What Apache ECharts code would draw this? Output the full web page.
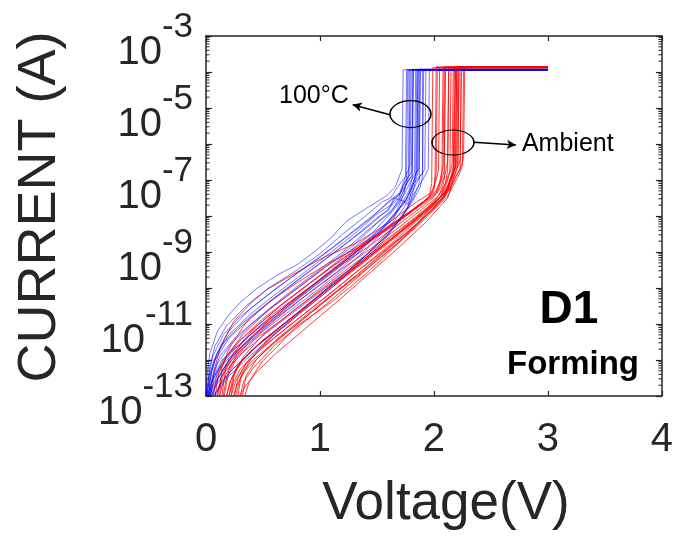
<!DOCTYPE html>
<html>
<head>
<meta charset="utf-8">
<script src="https://cdn.jsdelivr.net/npm/echarts@6/dist/echarts.min.js"></script>
<style>
html,body{margin:0;padding:0;background:#fff;}
#chart{width:676px;height:536px;}
</style>
</head>
<body>
<div id="chart"></div>
<script>
// ---- Data (voltage V, log10 of current in A) ----
// 100°C curves (blue)
const blueCurves = [
 [[0,-13],[0.01,-12.4],[0.035,-11.8],[0.1,-11.2],[0.2,-10.75],[0.3,-10.4],[0.45,-10.0],[0.62,-9.65],[0.8,-9.35],[0.95,-9.0],[1.1,-8.6],[1.23,-8.15],[1.4,-7.8],[1.58,-7.45],[1.66,-7.2],[1.72,-6.7],[1.73,-3.94],[3,-3.94]],
 [[0.01,-13],[0.03,-12.2],[0.08,-11.6],[0.18,-11.05],[0.35,-10.5],[0.55,-10.0],[0.8,-9.5],[1.0,-9.05],[1.2,-8.5],[1.4,-8.0],[1.55,-7.6],[1.62,-7.5],[1.68,-7.2],[1.75,-6.9],[1.76,-3.93],[3,-3.93]],
 [[0,-13],[0.02,-12.5],[0.06,-11.9],[0.15,-11.3],[0.3,-10.8],[0.5,-10.3],[0.75,-9.7],[1.0,-9.15],[1.25,-8.55],[1.45,-8.05],[1.6,-7.6],[1.7,-7.35],[1.74,-7.0],[1.79,-6.6],[1.8,-3.95],[3,-3.95]],
 [[0.02,-13],[0.05,-12.3],[0.1,-11.8],[0.2,-11.3],[0.4,-10.7],[0.6,-10.2],[0.85,-9.6],[1.1,-9.0],[1.3,-8.5],[1.5,-7.95],[1.62,-7.7],[1.68,-7.45],[1.72,-7.3],[1.8,-6.9],[1.82,-3.93],[3,-3.93]],
 [[0,-13],[0.03,-12.6],[0.08,-12.0],[0.2,-11.4],[0.4,-10.8],[0.65,-10.15],[0.9,-9.55],[1.15,-8.95],[1.35,-8.45],[1.52,-8.0],[1.6,-7.85],[1.65,-7.5],[1.7,-7.55],[1.76,-7.1],[1.83,-6.8],[1.84,-3.94],[3,-3.94]],
 [[0.03,-13],[0.06,-12.4],[0.12,-11.9],[0.25,-11.4],[0.45,-10.85],[0.7,-10.2],[0.95,-9.6],[1.2,-9.0],[1.4,-8.45],[1.55,-8.05],[1.64,-7.8],[1.7,-7.5],[1.75,-7.2],[1.78,-6.9],[1.79,-3.93],[3,-3.93]],
 [[0.01,-13],[0.04,-12.7],[0.1,-12.1],[0.22,-11.55],[0.4,-11.0],[0.6,-10.5],[0.85,-9.9],[1.1,-9.3],[1.3,-8.8],[1.5,-8.2],[1.62,-7.9],[1.7,-7.55],[1.75,-7.6],[1.8,-7.2],[1.85,-6.75],[1.86,-3.92],[3,-3.92]],
 [[0.04,-13],[0.07,-12.5],[0.15,-12.0],[0.3,-11.45],[0.5,-10.9],[0.75,-10.25],[1.0,-9.65],[1.25,-9.0],[1.45,-8.5],[1.6,-8.0],[1.68,-7.7],[1.74,-7.4],[1.8,-7.0],[1.87,-6.7],[1.88,-3.95],[3,-3.95]],
 [[0.02,-13],[0.05,-12.8],[0.12,-12.2],[0.25,-11.7],[0.45,-11.15],[0.7,-10.5],[0.95,-9.9],[1.2,-9.3],[1.4,-8.75],[1.55,-8.3],[1.65,-7.95],[1.72,-7.7],[1.78,-7.4],[1.82,-7.1],[1.9,-6.8],[1.91,-3.94],[3,-3.94]],
 [[0.05,-13],[0.09,-12.6],[0.18,-12.1],[0.35,-11.5],[0.55,-10.95],[0.8,-10.3],[1.05,-9.7],[1.3,-9.05],[1.5,-8.5],[1.62,-8.1],[1.7,-7.8],[1.76,-7.55],[1.8,-7.25],[1.84,-6.9],[1.85,-3.93],[3,-3.93]],
 [[0.03,-13],[0.07,-12.7],[0.15,-12.25],[0.3,-11.75],[0.5,-11.2],[0.75,-10.6],[1.0,-10.0],[1.2,-9.5],[1.4,-8.95],[1.55,-8.45],[1.66,-8.1],[1.73,-7.8],[1.79,-7.45],[1.86,-7.0],[1.92,-6.7],[1.93,-3.93],[3,-3.93]],
 [[0.06,-13],[0.1,-12.55],[0.2,-12.0],[0.35,-11.5],[0.6,-10.85],[0.85,-10.2],[1.1,-9.6],[1.35,-8.95],[1.52,-8.45],[1.65,-8.05],[1.72,-7.65],[1.78,-7.3],[1.81,-6.95],[1.82,-3.94],[3,-3.94]],
 [[0.04,-13],[0.08,-12.75],[0.16,-12.35],[0.32,-11.8],[0.55,-11.2],[0.8,-10.6],[1.05,-10.0],[1.28,-9.45],[1.45,-8.95],[1.6,-8.5],[1.7,-8.1],[1.77,-7.75],[1.83,-7.35],[1.9,-7.0],[1.95,-6.7],[1.96,-3.95],[3,-3.95]],
 [[0.02,-13],[0.06,-12.5],[0.14,-12.0],[0.28,-11.6],[0.48,-11.05],[0.72,-10.45],[0.98,-9.8],[1.22,-9.2],[1.42,-8.65],[1.58,-8.2],[1.68,-7.85],[1.74,-7.6],[1.77,-7.7],[1.8,-7.35],[1.83,-7.0],[1.85,-6.75],[1.86,-3.94],[3,-3.94]],
 [[0.07,-13],[0.12,-12.7],[0.22,-12.3],[0.4,-11.75],[0.65,-11.1],[0.9,-10.45],[1.18,-9.7],[1.4,-9.1],[1.55,-8.6],[1.67,-8.2],[1.75,-7.85],[1.82,-7.5],[1.87,-7.1],[1.88,-3.93],[3,-3.93]],
 [[0.05,-13],[0.1,-12.85],[0.2,-12.45],[0.38,-11.9],[0.6,-11.3],[0.85,-10.65],[1.1,-10.0],[1.3,-9.45],[1.48,-8.95],[1.62,-8.45],[1.72,-8.05],[1.78,-7.7],[1.82,-7.3],[1.84,-7.0],[1.86,-6.8],[1.87,-3.94],[3,-3.94]],
 [[0.08,-13],[0.14,-12.6],[0.25,-12.2],[0.45,-11.6],[0.7,-10.95],[0.95,-10.3],[1.2,-9.65],[1.42,-9.05],[1.58,-8.55],[1.7,-8.1],[1.77,-7.8],[1.82,-7.55],[1.88,-7.2],[1.9,-6.9],[1.9,-3.93],[3,-3.93]],
 [[0.03,-13],[0.05,-12.6],[0.1,-12.3],[0.2,-11.95],[0.4,-11.4],[0.65,-10.75],[0.9,-10.15],[1.15,-9.55],[1.38,-8.9],[1.55,-8.35],[1.65,-8.0],[1.71,-7.6],[1.74,-7.35],[1.76,-7.0],[1.77,-3.95],[3,-3.95]],
 [[0.01,-13],[0.03,-12.45],[0.07,-12.0],[0.16,-11.5],[0.33,-10.95],[0.55,-10.4],[0.8,-9.8],[1.05,-9.2],[1.28,-8.65],[1.46,-8.2],[1.6,-7.8],[1.69,-7.5],[1.73,-7.15],[1.78,-6.85],[1.78,-3.94],[3,-3.94]],
 [[0.02,-13],[0.04,-12.35],[0.09,-11.85],[0.2,-11.2],[0.38,-10.6],[0.6,-10.05],[0.86,-9.45],[1.12,-8.85],[1.34,-8.3],[1.52,-7.85],[1.63,-7.55],[1.7,-7.4],[1.75,-7.05],[1.81,-6.75],[1.81,-3.93],[3,-3.93]]
];
// Ambient curves (red)
const redCurves = [
 [[0.04,-13],[0.07,-12.3],[0.13,-11.6],[0.25,-10.9],[0.4,-10.4],[0.53,-10.05],[0.75,-9.65],[1.0,-9.2],[1.32,-8.75],[1.6,-8.2],[1.85,-7.6],[1.98,-7.35],[2.02,-7.0],[2.04,-6.7],[2.05,-3.88],[3,-3.88]],
 [[0.08,-13],[0.11,-12.4],[0.18,-11.9],[0.32,-11.3],[0.55,-10.6],[0.8,-10.0],[1.05,-9.4],[1.3,-8.9],[1.55,-8.4],[1.8,-7.85],[1.95,-7.5],[2.0,-7.2],[2.02,-6.8],[2.03,-3.87],[3,-3.87]],
 [[0.1,-13],[0.13,-12.5],[0.2,-12.0],[0.35,-11.4],[0.6,-10.7],[0.9,-10.0],[1.15,-9.4],[1.4,-8.8],[1.65,-8.25],[1.9,-7.65],[2.02,-7.35],[2.06,-7.0],[2.08,-6.6],[2.09,-3.86],[3,-3.86]],
 [[0.12,-13],[0.15,-12.6],[0.22,-12.1],[0.38,-11.5],[0.62,-10.85],[0.9,-10.15],[1.2,-9.45],[1.45,-8.9],[1.7,-8.3],[1.92,-7.75],[2.04,-7.45],[2.08,-7.15],[2.1,-6.8],[2.12,-6.5],[2.13,-3.88],[3,-3.88]],
 [[0.15,-13],[0.18,-12.5],[0.26,-12.0],[0.42,-11.45],[0.7,-10.8],[1.0,-10.05],[1.25,-9.45],[1.5,-8.85],[1.75,-8.25],[1.95,-7.75],[2.06,-7.45],[2.1,-7.1],[2.14,-6.75],[2.15,-3.87],[3,-3.87]],
 [[0.18,-13],[0.21,-12.6],[0.28,-12.15],[0.45,-11.6],[0.72,-10.9],[1.0,-10.2],[1.3,-9.45],[1.55,-8.85],[1.8,-8.2],[1.98,-7.7],[2.08,-7.4],[2.12,-7.3],[2.15,-6.9],[2.17,-6.6],[2.18,-3.88],[3,-3.88]],
 [[0.2,-13],[0.24,-12.45],[0.32,-12.0],[0.5,-11.45],[0.8,-10.7],[1.1,-9.95],[1.35,-9.35],[1.6,-8.7],[1.85,-8.05],[2.0,-7.65],[2.08,-7.4],[2.13,-7.1],[2.18,-6.7],[2.2,-6.5],[2.21,-3.86],[3,-3.86]],
 [[0.22,-13],[0.26,-12.6],[0.35,-12.1],[0.55,-11.5],[0.85,-10.75],[1.15,-10.0],[1.4,-9.35],[1.65,-8.7],[1.88,-8.05],[2.02,-7.65],[2.1,-7.4],[2.16,-7.05],[2.2,-6.7],[2.23,-6.45],[2.24,-3.87],[3,-3.87]],
 [[0.25,-13],[0.28,-12.5],[0.36,-12.05],[0.55,-11.4],[0.82,-10.7],[1.1,-10.0],[1.38,-9.3],[1.62,-8.7],[1.85,-8.1],[2.0,-7.7],[2.1,-7.45],[2.18,-7.0],[2.24,-6.6],[2.26,-6.4],[2.27,-3.86],[3,-3.86]],
 [[0.3,-13],[0.33,-12.6],[0.42,-12.2],[0.6,-11.6],[0.88,-10.9],[1.15,-10.2],[1.42,-9.45],[1.68,-8.75],[1.9,-8.1],[2.03,-7.65],[2.1,-7.4],[2.14,-7.0],[2.19,-6.65],[2.2,-3.88],[3,-3.88]],
 [[0.34,-13],[0.38,-12.6],[0.49,-12.05],[0.65,-11.55],[0.78,-11.1],[0.96,-10.7],[1.12,-10.35],[1.35,-9.75],[1.58,-9.1],[1.8,-8.4],[2.05,-7.5],[2.1,-7.2],[2.14,-6.8],[2.16,-6.55],[2.17,-3.87],[3,-3.87]],
 [[0.28,-13],[0.31,-12.4],[0.4,-11.95],[0.58,-11.35],[0.85,-10.6],[1.12,-9.9],[1.38,-9.2],[1.62,-8.6],[1.86,-8.0],[2.0,-7.6],[2.06,-7.35],[2.1,-7.1],[2.12,-6.75],[2.13,-3.86],[3,-3.86]],
 [[0.14,-13],[0.17,-12.3],[0.24,-11.8],[0.4,-11.2],[0.65,-10.5],[0.92,-9.85],[1.2,-9.2],[1.48,-8.6],[1.72,-8.05],[1.93,-7.6],[2.02,-7.4],[2.06,-7.2],[2.09,-6.9],[2.1,-3.87],[3,-3.87]],
 [[0.2,-13],[0.23,-12.7],[0.3,-12.25],[0.48,-11.7],[0.75,-11.0],[1.05,-10.25],[1.3,-9.6],[1.55,-9.0],[1.8,-8.35],[1.98,-7.85],[2.07,-7.55],[2.11,-7.25],[2.14,-7.3],[2.17,-6.95],[2.21,-6.6],[2.22,-3.85],[3,-3.85]],
 [[0.1,-13],[0.12,-12.7],[0.18,-12.2],[0.32,-11.6],[0.55,-10.9],[0.82,-10.2],[1.1,-9.55],[1.38,-8.95],[1.62,-8.4],[1.85,-7.85],[1.99,-7.5],[2.04,-7.25],[2.07,-6.95],[2.09,-6.75],[2.1,-3.88],[3,-3.88]],
 [[0.24,-13],[0.27,-12.7],[0.34,-12.3],[0.52,-11.75],[0.78,-11.05],[1.05,-10.35],[1.32,-9.65],[1.58,-8.95],[1.82,-8.3],[2.0,-7.8],[2.09,-7.5],[2.13,-7.2],[2.17,-6.85],[2.19,-3.87],[3,-3.87]],
 [[0.16,-13],[0.2,-12.3],[0.27,-11.85],[0.44,-11.25],[0.7,-10.55],[0.97,-9.85],[1.25,-9.15],[1.52,-8.5],[1.76,-7.95],[1.95,-7.5],[2.0,-7.3],[2.01,-6.9],[2.02,-3.86],[3,-3.86]],
 [[0.26,-13],[0.3,-12.5],[0.38,-12.1],[0.58,-11.55],[0.86,-10.85],[1.15,-10.1],[1.4,-9.5],[1.65,-8.85],[1.9,-8.15],[2.04,-7.7],[2.12,-7.45],[2.17,-7.15],[2.22,-6.85],[2.25,-6.6],[2.26,-3.87],[3,-3.87]],
 [[0.12,-13],[0.14,-12.2],[0.2,-11.7],[0.34,-11.0],[0.55,-10.4],[0.8,-9.85],[1.08,-9.3],[1.35,-8.85],[1.6,-8.35],[1.82,-7.85],[1.96,-7.45],[1.98,-7.1],[1.99,-3.88],[3,-3.88]],
 [[0.3,-13],[0.34,-12.75],[0.44,-12.35],[0.62,-11.8],[0.9,-11.05],[1.18,-10.3],[1.45,-9.55],[1.7,-8.85],[1.92,-8.2],[2.05,-7.75],[2.12,-7.5],[2.15,-7.2],[2.19,-6.9],[2.23,-6.7],[2.24,-3.86],[3,-3.86]],
 [[0.18,-13],[0.22,-12.55],[0.3,-12.05],[0.48,-11.5],[0.76,-10.8],[1.04,-10.1],[1.3,-9.45],[1.56,-8.8],[1.8,-8.2],[1.99,-7.7],[2.07,-7.45],[2.12,-7.2],[2.16,-6.85],[2.18,-6.6],[2.19,-3.86],[3,-3.86]],
 [[0.06,-13],[0.09,-12.5],[0.16,-12.0],[0.3,-11.45],[0.5,-10.85],[0.75,-10.25],[1.02,-9.6],[1.3,-8.95],[1.55,-8.4],[1.78,-7.9],[1.95,-7.5],[2.02,-7.3],[2.05,-7.05],[2.07,-6.75],[2.08,-3.87],[3,-3.87]],
 [[0.22,-13],[0.25,-12.35],[0.33,-11.9],[0.5,-11.3],[0.78,-10.6],[1.06,-9.95],[1.34,-9.3],[1.6,-8.7],[1.84,-8.1],[2.01,-7.6],[2.09,-7.4],[2.14,-7.05],[2.18,-6.75],[2.21,-6.5],[2.22,-3.88],[3,-3.88]],
 [[0.32,-13],[0.35,-12.45],[0.44,-12.0],[0.63,-11.4],[0.9,-10.7],[1.16,-10.05],[1.42,-9.4],[1.66,-8.75],[1.88,-8.15],[2.02,-7.7],[2.09,-7.45],[2.13,-7.15],[2.17,-6.8],[2.19,-6.55],[2.2,-3.86],[3,-3.86]]
];
// Axis ranges and ticks
const xTicks = [0, 1, 2, 3, 4];
const yDecades = [-13, -12, -11, -10, -9, -8, -7, -6, -5, -4, -3];
const yLabelExps = [-13, -11, -9, -7, -5, -3];
const minorMultipliers = [2, 3, 4, 5, 6, 7, 8, 9];
// Annotation texts
const labelHot = '100°C';
const labelAmb = 'Ambient';
const deviceName = 'D1';
const stepName = 'Forming';

const FONT = "'Liberation Sans', Arial, Helvetica, sans-serif";
const AXC = '#262626';

const chart = echarts.init(document.getElementById('chart'), null, {renderer: 'canvas'});

const minorData = [];
yDecades.slice(0, -1).forEach(d => minorMultipliers.forEach(m => minorData.push([0, d + Math.log10(m)])));

const series = [];
const nMax = Math.max(blueCurves.length, redCurves.length);
for (let i = 0; i < nMax; i++) {
  if (i < redCurves.length) series.push({
    type: 'line', data: redCurves[i], showSymbol: false, silent: true, animation: false,
    lineStyle: {color: 'rgba(255,0,0,0.85)', width: 0.9}, z: 3
  });
  if (i < blueCurves.length) series.push({
    type: 'line', data: blueCurves[i], showSymbol: false, silent: true, animation: false,
    lineStyle: {color: 'rgba(0,0,255,0.6)', width: 0.9}, z: 3
  });
}
// minor log ticks on left and right frame
series.push({
  type: 'custom', data: minorData, silent: true, animation: false, clip: false, z: 10,
  encode: {x: 0, y: 1},
  renderItem: function (params, api) {
    const y = api.coord([0, api.value(1)])[1];
    const l = api.coord([0, -13])[0];
    const r = api.coord([4, -13])[0];
    const st = {stroke: AXC, lineWidth: 1};
    return {type: 'group', children: [
      {type: 'line', shape: {x1: l, y1: y, x2: l + 3.5, y2: y}, style: st},
      {type: 'line', shape: {x1: r, y1: y, x2: r - 3.5, y2: y}, style: st}
    ]};
  }
});
// arrows
series.push({
  type: 'line', data: [], silent: true, animation: false,
  markLine: {
    silent: true, animation: false, symbol: ['none', 'arrow'], symbolSize: [7, 9],
    lineStyle: {color: '#000', width: 1.5, type: 'solid'}, label: {show: false},
    data: [
      [{coord: [1.614, -5.19]}, {coord: [1.287, -4.91]}],
      [{coord: [2.351, -5.95]}, {coord: [2.719, -6.03]}]
    ]
  }
});

const axisCommon = {
  axisLine: {show: true, onZero: false, lineStyle: {color: AXC, width: 1.5}},
  splitLine: {show: false}
};

chart.setOption({
  backgroundColor: '#fff',
  animation: false,
  grid: {left: 206, right: 14, top: 36, bottom: 134, containLabel: false},
  xAxis: [
    Object.assign({
      type: 'value', min: xTicks[0], max: xTicks[xTicks.length - 1], interval: 1, position: 'bottom',
      axisTick: {show: true, inside: true, length: 5, lineStyle: {color: AXC, width: 1.2}},
      axisLabel: {fontFamily: FONT, fontSize: 40, color: AXC, margin: 24},
      name: 'Voltage(V)', nameLocation: 'middle', nameGap: 82,
      nameTextStyle: {fontFamily: FONT, fontSize: 53, color: AXC, padding: [0, 0, 0, 24]}
    }, axisCommon),
    Object.assign({
      type: 'value', min: xTicks[0], max: xTicks[xTicks.length - 1], interval: 1, position: 'top',
      axisTick: {show: true, inside: true, length: 5, lineStyle: {color: AXC, width: 1.2}},
      axisLabel: {show: false}
    }, axisCommon)
  ],
  yAxis: [
    Object.assign({
      type: 'value', min: yDecades[0], max: yDecades[yDecades.length - 1], interval: 1, position: 'left',
      axisTick: {show: true, inside: true, length: 6, lineStyle: {color: AXC, width: 1.2}},
      axisLabel: {
        margin: 13, color: AXC, padding: [11, 0, 0, 0],
        formatter: function (v) {
          const e = Math.round(v);
          return yLabelExps.indexOf(e) >= 0 ? '{b|10}{s|' + e + '}' : '';
        },
        rich: {
          b: {fontFamily: FONT, fontSize: 40, color: AXC, lineHeight: 63, verticalAlign: 'bottom'},
          s: {fontFamily: FONT, fontSize: 35, color: AXC, lineHeight: 36, verticalAlign: 'top'}
        }
      },
      name: 'CURRENT (A)', nameLocation: 'middle', nameGap: 139, nameRotate: 90,
      nameTextStyle: {fontFamily: FONT, fontSize: 54, color: AXC, padding: [0, 0, 0, 18]}
    }, axisCommon),
    Object.assign({
      type: 'value', min: yDecades[0], max: yDecades[yDecades.length - 1], interval: 1, position: 'right',
      axisTick: {show: true, inside: true, length: 6, lineStyle: {color: AXC, width: 1.2}},
      axisLabel: {show: false}
    }, axisCommon)
  ],
  series: series
});

function px(v, e) { return chart.convertToPixel({xAxisIndex: 0, yAxisIndex: 0}, [v, e]); }
const e1 = px(1.794, -5.17), e2 = px(2.167, -5.96);
const tHot = px(0.947, -4.67), tAmb = px(2.772, -6.0);
const tD1 = px(3.184, -10.62), tForm = px(3.22, -12.13);
chart.setOption({
  graphic: [
    {type: 'circle', x: e1[0], y: e1[1], scaleY: 13.5 / 20.5, shape: {cx: 0, cy: 0, r: 20.5},
     style: {fill: 'none', stroke: '#000', lineWidth: 1.6, strokeNoScale: true}, z: 100},
    {type: 'circle', x: e2[0], y: e2[1], scaleY: 12.5 / 21, shape: {cx: 0, cy: 0, r: 21},
     style: {fill: 'none', stroke: '#000', lineWidth: 1.6, strokeNoScale: true}, z: 100},
    {type: 'text', x: tHot[0], y: tHot[1], z: 100,
     style: {text: labelHot, font: '25px ' + FONT, fill: '#000', textAlign: 'center', textVerticalAlign: 'middle'}},
    {type: 'text', x: tAmb[0], y: tAmb[1], z: 100,
     style: {text: labelAmb, font: '25px ' + FONT, fill: '#000', textAlign: 'left', textVerticalAlign: 'middle'}},
    {type: 'text', x: tD1[0], y: tD1[1], z: 100,
     style: {text: deviceName, font: 'bold 46px ' + FONT, fill: '#000', textAlign: 'center', textVerticalAlign: 'middle'}},
    {type: 'text', x: tForm[0], y: tForm[1], z: 100,
     style: {text: stepName, font: 'bold 33px ' + FONT, fill: '#000', textAlign: 'center', textVerticalAlign: 'middle'}}
  ]
});
</script>
</body>
</html>
